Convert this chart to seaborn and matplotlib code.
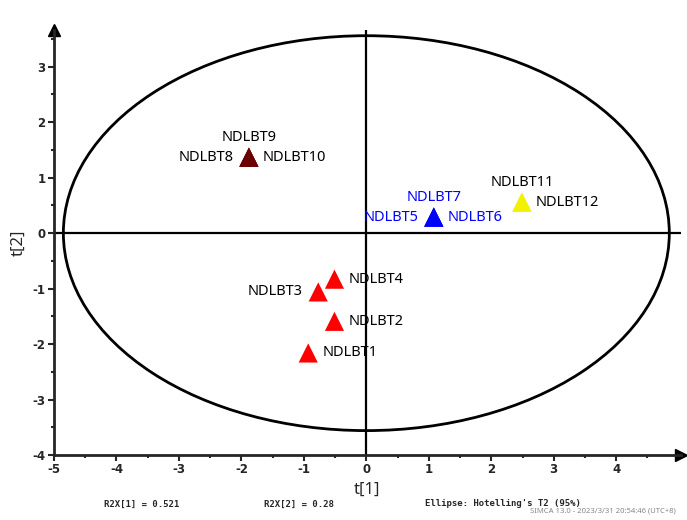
import numpy as np
import pandas as pd
import matplotlib
matplotlib.use("Agg")
import matplotlib.pyplot as plt
import seaborn as sns
from matplotlib.patches import Ellipse
from matplotlib.ticker import MultipleLocator

samples = ["NDLBT1", "NDLBT2", "NDLBT3", "NDLBT4", "NDLBT5", "NDLBT6",
           "NDLBT7", "NDLBT8", "NDLBT9", "NDLBT10", "NDLBT11", "NDLBT12"]
t1 = [-0.93, -0.51, -0.77, -0.51, 1.08, 1.08, 1.08, -1.88, -1.88, -1.88, 2.49, 2.49]
t2 = [-2.16, -1.59, -1.06, -0.83, 0.29, 0.29, 0.29, 1.37, 1.37, 1.37, 0.56, 0.56]
groups = ["A", "A", "A", "A", "B", "B", "B", "C", "C", "C", "D", "D"]
# position du texte par rapport au point
label_pos = ["right", "right", "left", "right", "left", "right",
             "top", "left", "top", "right", "top", "right"]
label_color = ["black"] * 4 + ["#0000FF"] * 3 + ["black"] * 5

group_colors = {"A": "#FF0000", "B": "#0000FF", "C": "#6B0000", "D": "#F2F200"}

# ellipse Hotelling T2 (95%)
ell_w = 4.85
ell_h = 3.56

df = pd.DataFrame({"sample": samples, "t1": t1, "t2": t2, "group": groups})

sns.set_style("white")
plt.rcParams["font.family"] = ["Noto Sans", "DejaVu Sans"]
plt.rcParams["axes.unicode_minus"] = False

fig = plt.figure(figsize=(6.87, 5.2), dpi=100)
ax = fig.add_axes([0.0786, 0.125, 0.912, 0.817])

ax.axhline(0, color="black", lw=1.6, zorder=1)
ax.axvline(0, color="black", lw=1.6, zorder=1)
ax.add_patch(Ellipse((0, 0), 2 * ell_w, 2 * ell_h, fill=False, ec="black", lw=2, zorder=1))

sns.scatterplot(data=df, x="t1", y="t2", hue="group", palette=group_colors,
                marker="^", s=190, edgecolor="none", legend=False, ax=ax, zorder=3)

offsets = {"right": (10, 0, "left", "center"), "left": (-11, 0, "right", "center"),
           "top": (0, 9, "center", "bottom")}
for name, x, y, pos, c in zip(samples, t1, t2, label_pos, label_color):
    dx, dy, ha, va = offsets[pos]
    ax.annotate(name, (x, y), xytext=(dx, dy), textcoords="offset points",
                ha=ha, va=va, fontsize=10.5, color=c, zorder=4)

ax.set_xlim(-5, 5.03)
ax.set_ylim(-4, 3.66)
for s in ["top", "right"]:
    ax.spines[s].set_visible(False)
ax.spines["left"].set_linewidth(2)
ax.spines["bottom"].set_linewidth(2)

# fleches au bout des axes
ax.plot(1, 0, ">k", markersize=9, transform=ax.transAxes, clip_on=False)
ax.plot(0, 1, "^k", markersize=9, transform=ax.transAxes, clip_on=False)

ax.xaxis.set_major_locator(MultipleLocator(1))
ax.yaxis.set_major_locator(MultipleLocator(1))
ax.xaxis.set_minor_locator(MultipleLocator(0.5))
ax.yaxis.set_minor_locator(MultipleLocator(0.5))
ax.tick_params(which="major", direction="out", length=4, width=1.5, bottom=True, left=True, pad=2)
ax.tick_params(which="minor", direction="out", length=2, width=1.5, bottom=True, left=True)
ax.set_xticks(range(-5, 5))
ax.set_yticks(range(-4, 4))
for lab in ax.get_xticklabels() + ax.get_yticklabels():
    lab.set_fontweight("bold")
    lab.set_fontsize(8.5)
    lab.set_family("DejaVu Sans")

ax.set_xlabel("t[1]", fontsize=12, labelpad=4)
ax.set_ylabel("t[2]", fontsize=12, labelpad=4)

fig.text(0.152, 0.026, "R2X[1] = 0.521", fontsize=6.5, family="DejaVu Sans Mono", weight="bold")
fig.text(0.384, 0.026, "R2X[2] = 0.28", fontsize=6.5, family="DejaVu Sans Mono", weight="bold")
fig.text(0.618, 0.026, "Ellipse: Hotelling's T2 (95%)", fontsize=6.5, family="DejaVu Sans Mono", weight="bold")
fig.text(0.772, 0.014, "SIMCA 13.0 - 2023/3/31 20:54:46 (UTC+8)", fontsize=5.5, color="#888888")

fig.savefig("out.png", dpi=100)
